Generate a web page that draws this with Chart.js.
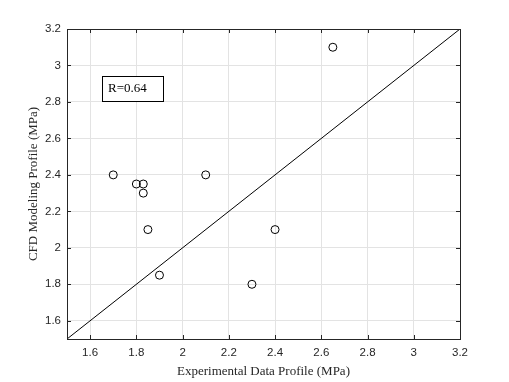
<!DOCTYPE html>
<html>
<head>
<meta charset="utf-8">
<script src="https://cdn.jsdelivr.net/npm/chart.js@4.4.0/dist/chart.umd.min.js"></script>
<style>
body { margin: 0; background: #fff; }
canvas { display: block; }
</style>
</head>
<body>
<canvas id="myChart" width="509" height="382"></canvas>
<script>
// measured points
var experimental = [1.7, 1.8, 1.83, 1.83, 1.85, 1.9, 2.1, 2.3, 2.4, 2.65];
var modeled = [2.4, 2.35, 2.35, 2.3, 2.1, 1.85, 2.4, 1.8, 2.1, 3.1];
// y = x reference line
var refLine = [1.5, 3.2];
var tickValues = [1.6, 1.8, 2, 2.2, 2.4, 2.6, 2.8, 3, 3.2];
var rLabel = 'R=0.64';

var points = [];
for (var i = 0; i < experimental.length; i++) {
    points.push({x: experimental[i], y: modeled[i]});
}
var linePts = refLine.map(function(v){ return {x: v, y: v}; });

var axisColor = '#262626';

// box around plot, inward ticks and the R label
var framePlugin = {
    id: 'frame',
    afterDatasetsDraw: function(chart) {
        var ctx = chart.ctx;
        var a = chart.chartArea;
        var xs = chart.scales.x, ys = chart.scales.y;
        ctx.save();
        ctx.strokeStyle = axisColor;
        ctx.lineWidth = 1;
        ctx.beginPath();
        tickValues.forEach(function(v){
            var px = Math.round(xs.getPixelForValue(v)) + 0.5;
            ctx.moveTo(px, a.bottom); ctx.lineTo(px, a.bottom - 4);
            ctx.moveTo(px, a.top); ctx.lineTo(px, a.top + 4);
            var py = Math.round(ys.getPixelForValue(v)) + 0.5;
            ctx.moveTo(a.left, py); ctx.lineTo(a.left + 4, py);
            ctx.moveTo(a.right, py); ctx.lineTo(a.right - 4, py);
        });
        ctx.stroke();
        ctx.strokeRect(Math.round(a.left) + 0.5, Math.round(a.top) + 0.5,
            Math.round(a.right - a.left), Math.round(a.bottom - a.top));

        // R box
        var bx = Math.round(xs.getPixelForValue(1.653)) + 0.5;
        var by = Math.round(ys.getPixelForValue(2.94)) + 0.5;
        ctx.fillStyle = '#fff';
        ctx.fillRect(bx, by, 61, 25);
        ctx.strokeStyle = '#000';
        ctx.strokeRect(bx, by, 61, 25);
        ctx.fillStyle = '#000';
        ctx.font = '13px "Liberation Serif", "Times New Roman", serif';
        ctx.textBaseline = 'middle';
        ctx.fillText(rLabel, bx + 5.5, by + 12.5);
        ctx.restore();
    }
};

var ctx = document.getElementById('myChart');
var chart = new Chart(ctx, {
    type: 'scatter',
    data: {
        datasets: [
            {
                data: points,
                pointStyle: 'circle',
                pointRadius: 4,
                pointHoverRadius: 4,
                borderColor: '#000',
                backgroundColor: 'rgba(255,255,255,0)',
                borderWidth: 1,
                showLine: false
            },
            {
                data: linePts,
                showLine: true,
                pointRadius: 0,
                borderColor: '#000',
                borderWidth: 1,
                fill: false
            }
        ]
    },
    options: {
        responsive: false,
        animation: false,
        events: [],
        layout: { padding: { top: 29, right: 49, left: 0, bottom: 0 } },
        plugins: { legend: { display: false }, tooltip: { enabled: false } },
        scales: {
            x: {
                type: 'linear',
                min: 1.5, max: 3.2,
                afterBuildTicks: function(s){ s.ticks = tickValues.map(function(v){ return {value: v}; }); },
                afterFit: function(s){ s.height = 43; },
                grid: { color: '#e3e3e3', drawTicks: false },
                border: { display: false },
                ticks: {
                    color: axisColor,
                    padding: 7,
                    maxRotation: 0,
                    font: { family: '"Liberation Sans", Arial, sans-serif', size: 11.5 },
                    callback: function(v){ return String(Math.round(v * 10) / 10); }
                },
                title: {
                    display: true,
                    text: 'Experimental Data Profile (MPa)',
                    color: axisColor,
                    padding: { top: 0, bottom: 3 },
                    font: { family: '"Liberation Serif", "Times New Roman", serif', size: 13 }
                }
            },
            y: {
                type: 'linear',
                min: 1.5, max: 3.2,
                afterBuildTicks: function(s){ s.ticks = tickValues.map(function(v){ return {value: v}; }); },
                afterFit: function(s){ s.width = 67; },
                grid: { color: '#e3e3e3', drawTicks: false },
                border: { display: false },
                ticks: {
                    color: axisColor,
                    padding: 6,
                    font: { family: '"Liberation Sans", Arial, sans-serif', size: 11.5 },
                    callback: function(v){ return String(Math.round(v * 10) / 10); }
                },
                title: {
                    display: true,
                    text: 'CFD Modeling Profile (MPa)',
                    color: axisColor,
                    padding: { top: 26, bottom: 0 },
                    font: { family: '"Liberation Serif", "Times New Roman", serif', size: 13 }
                }
            }
        }
    },
    plugins: [framePlugin]
});
</script>
</body>
</html>
